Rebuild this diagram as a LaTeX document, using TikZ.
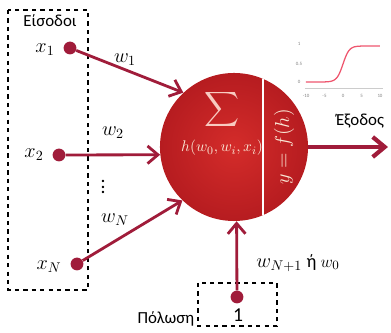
\documentclass[tikz,border=0pt]{standalone}
\usepackage{fontspec}
\setmainfont{Carlito}
\usepackage{amsmath}
\usetikzlibrary{arrows.meta}

\definecolor{wine}{RGB}{160,28,58}
\definecolor{cellin}{RGB}{212,44,42}
\definecolor{cellout}{RGB}{182,28,32}
\definecolor{cream}{RGB}{250,232,214}
\definecolor{sigpink}{RGB}{238,86,110}

\tikzset{
  wire/.style={wine, line width=2pt},
  tip/.style={-{Straight Barb[length=2.6mm, width=4.4mm, line width=2pt]}},
  dot/.style={circle, fill=wine, inner sep=0pt, minimum size=3.2mm},
  frame/.style={dashed, line width=0.9pt},
  lbl/.style={font=\fontsize{14}{16}\selectfont},
  txt/.style={font=\fontsize{12}{14}\selectfont},
  neuron/.style={circle, inner sep=0pt, minimum size=3.7cm, shade, inner color=cellin, outer color=cellout},
  tick/.style={font=\fontsize{3.5}{4}\selectfont, text=gray, inner sep=0.5pt}
}

\begin{document}
\begin{tikzpicture}[x=0.025cm, y=-0.025cm]
  \useasboundingbox (0,0) rectangle (391,333);

  \draw[frame] (8,10) rectangle (88,290);
  \draw[frame] (198,283) rectangle (277,326);

  \node[txt] (inp) at (50,21)  {Είσοδοι};
  \node[lbl] (x1)  at (45,50)  {$x_1$};
  \node[lbl] (x2)  at (34,155) {$x_2$};
  \node[lbl] (xN)  at (49,267) {$x_N$};
  \node[lbl, inner sep=0pt] (vd) at (103,183) {$\vdots$};

  \node[dot] (d1) at (70,48)  {};
  \node[dot] (d2) at (59,155) {};
  \node[dot] (dN) at (77,264) {};
  \node[dot] (db) at (237,297) {};

  \node[neuron] (n) at (234,147) {};
  \begin{scope}
    \clip (n.center) circle (74);
    \draw[white, line width=1.8pt] (263,60) -- (263,240);
  \end{scope}

  \node[font=\fontsize{19}{22}\selectfont, text=cream!80!sigpink] (sum) at (222,110) {$\displaystyle\sum$};
  \node[font=\fontsize{11}{13}\selectfont, text=cream] (h) at (222,148) {$h(w_0,w_i,x_i)$};
  \node[lbl, text=cream, rotate=90] (f) at (284,147) {$y = f(h)$};

  \node[lbl] (w1) at (125,60)  {$w_1$};
  \node[lbl] (w2) at (113,133) {$w_2$};
  \node[lbl] (wN) at (115,220) {$w_N$};
  \node[lbl] (wb) at (298,263) {$w_{N+1}$ \fontsize{13}{15}\selectfont ή $w_0$};

  \draw[wire, tip] (d1) -- (n.133);
  \draw[wire, tip] (d2) -- (n.186);
  \draw[wire, tip] (dN) -- (n.226);
  \draw[wire, tip] (db) -- (n.272);

  \coordinate (out) at (388,147);
  \draw[wire, line width=3pt, -{Straight Barb[length=3mm, width=5mm, line width=3pt]}] (n.east) -- (out);
  \node[txt] (exo) at (360,121) {Έξοδος};

  \node[txt] (pol) at (166,319) {Πόλωση};
  \node[txt, font=\fontsize{14}{16}\selectfont] (one) at (238,315) {1};

  % activation curve
  \draw[gray!40, line width=0.4pt] (305,88) -- (383,88);
  \foreach \v/\t in {-10/-10,-5/-5,0/0,5/5,10/10}
    \node[tick] at ({343+3.7*\v},96) {\t};
  \node[tick] at (299,44) {1};
  \node[tick] at (299,64) {0.5};
  \node[tick] at (299,82) {0};
  \draw[sigpink, line width=0.9pt] (306,82) -- ({343-3.7*7},82)
    -- plot[domain=-7:10, samples=60, smooth] ({343+3.7*\x},{82-36/(1+exp(-1.2*\x))});
\end{tikzpicture}
\end{document}
